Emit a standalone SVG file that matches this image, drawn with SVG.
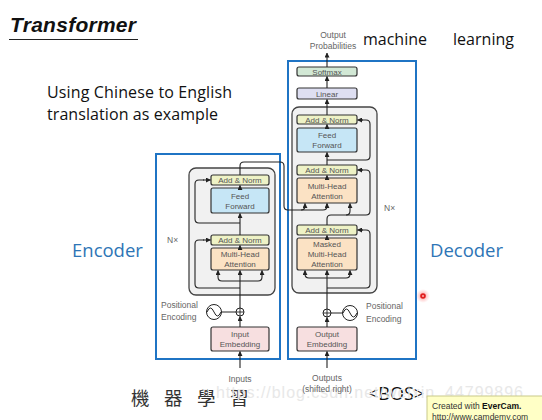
<svg xmlns="http://www.w3.org/2000/svg" width="542" height="420" viewBox="0 0 542 420">
<defs>
<marker id="ar" viewBox="0 0 6 6" refX="5.5" refY="3" markerWidth="5" markerHeight="5" markerUnits="userSpaceOnUse" orient="auto"><path d="M0,0 L6,3 L0,6 z" fill="#222"/></marker>
<radialGradient id="glow"><stop offset="0" stop-color="#ff3030" stop-opacity="0.6"/><stop offset="1" stop-color="#ff8080" stop-opacity="0"/></radialGradient>
<style>
.blue{fill:none;stroke:#1f74c4;stroke-width:2}
.gray{fill:#f1f1f1;stroke:#444;stroke-width:1.3}
.blk{stroke:#333;stroke-width:1.2}
.an{fill:#eef2c6}.ff{fill:#c6e6f6}.mha{fill:#fbe2c4}.emb{fill:#f7dfe0}.sm{fill:#d2e8d5}.lin{fill:#dedff2}
.bt{font-family:"Liberation Sans",Arial,sans-serif;font-size:8px;fill:#555;text-anchor:middle}
.st{font-family:"Liberation Sans",Arial,sans-serif;font-size:8.5px;fill:#666}
.ln{fill:none;stroke:#222;stroke-width:1.1}
.lna{fill:none;stroke:#222;stroke-width:1.1;marker-end:url(#ar)}
.big{font-family:"Open Sans","Liberation Sans",sans-serif;font-size:16px;fill:#111}
.lab{font-family:"Open Sans","Liberation Sans",sans-serif;font-size:18.5px;fill:#2e75b6}
</style>
</defs>
<rect width="542" height="420" fill="#fff"/>

<g id="title">
<text x="10" y="32" font-family="'Liberation Sans',Arial,sans-serif" font-size="21" font-weight="bold" font-style="italic" fill="#111" textLength="126">Transformer</text>
<line x1="9" y1="39.5" x2="138" y2="39.5" stroke="#222" stroke-width="1.2"/>
</g>
<g id="caption">
<text class="big" x="47" y="98" textLength="185">Using Chinese to English</text>
<text class="big" x="47" y="120" textLength="171">translation as example</text>
</g>
<g id="words">
<text class="big" x="363" y="45" textLength="64">machine</text>
<text class="big" x="453" y="45" textLength="61">learning</text>
<text x="368" y="400" font-family="'Open Sans','Liberation Sans',sans-serif" font-size="18" fill="#111">&lt;BOS&gt;</text>
<text x="131" y="405" font-family="'Noto Sans CJK TC','Noto Sans CJK SC',sans-serif" font-size="18.5" fill="#333" letter-spacing="14.5">機器學習</text>
</g>
<text x="216" y="398" font-family="'Liberation Sans',Arial,sans-serif" font-size="16" fill="#e8e8e8" textLength="307">https://blog.csdn.net/weixin_44799896</text>

<g id="encoder">
<rect class="blue" x="156" y="154" width="124" height="205"/>
<text class="lab" x="72" y="257">Encoder</text>
<rect class="gray" x="189" y="168" width="86" height="127" rx="7"/>
<text class="st" x="167" y="243">N×</text>
<g id="enc-an1"><rect class="blk an" x="211" y="175" width="58" height="10" rx="2"/><text class="bt" x="240" y="183">Add &amp; Norm</text></g>
<g id="enc-ff"><rect class="blk ff" x="211" y="188" width="58" height="25" rx="2"/><text class="bt" x="240" y="198.5">Feed</text><text class="bt" x="240" y="208.5">Forward</text></g>
<g id="enc-an2"><rect class="blk an" x="211" y="235" width="58" height="10" rx="2"/><text class="bt" x="240" y="243">Add &amp; Norm</text></g>
<g id="enc-mha"><rect class="blk mha" x="211" y="248" width="58" height="22" rx="2"/><text class="bt" x="240" y="257">Multi-Head</text><text class="bt" x="240" y="267">Attention</text></g>
<g id="enc-emb"><rect class="blk emb" x="211" y="327" width="58" height="24" rx="2"/><text class="bt" x="240" y="337">Input</text><text class="bt" x="240" y="347">Embedding</text></g>
<g id="enc-pe">
<circle cx="240" cy="312" r="4" fill="#fff" stroke="#222" stroke-width="1"/><path d="M236,312 H244 M240,308 V316" stroke="#222" stroke-width="0.9"/>
<circle cx="214" cy="312" r="7.5" fill="#fff" stroke="#222" stroke-width="1"/><path d="M207,312 Q210.5,304 214,312 T221,312" fill="none" stroke="#222" stroke-width="1"/>
<line x1="221.5" y1="312" x2="236" y2="312" stroke="#222" stroke-width="1"/>
<text class="st" x="161" y="308">Positional</text><text class="st" x="161" y="320">Encoding</text>
</g>
<text class="st" x="240" y="382" text-anchor="middle">Inputs</text>
</g>

<g id="decoder">
<rect class="blue" x="288" y="61" width="128" height="298"/>
<text class="lab" x="430" y="257">Decoder</text>
<rect class="gray" x="292" y="107" width="85" height="186" rx="7"/>
<text class="st" x="384" y="211">N×</text>
<g id="dec-sm"><rect class="blk sm" x="297" y="67" width="60" height="9" rx="2"/><text class="bt" x="327" y="74.5">Softmax</text></g>
<g id="dec-lin"><rect class="blk lin" x="297" y="88" width="60" height="11" rx="2"/><text class="bt" x="327" y="96.5">Linear</text></g>
<g id="dec-an1"><rect class="blk an" x="297" y="115" width="60" height="9" rx="2"/><text class="bt" x="327" y="122.5">Add &amp; Norm</text></g>
<g id="dec-ff"><rect class="blk ff" x="297" y="128" width="60" height="24" rx="2"/><text class="bt" x="327" y="138">Feed</text><text class="bt" x="327" y="148">Forward</text></g>
<g id="dec-an2"><rect class="blk an" x="297" y="165" width="60" height="10" rx="2"/><text class="bt" x="327" y="173">Add &amp; Norm</text></g>
<g id="dec-mha"><rect class="blk mha" x="297" y="178" width="60" height="25" rx="2"/><text class="bt" x="327" y="188.5">Multi-Head</text><text class="bt" x="327" y="198.5">Attention</text></g>
<g id="dec-an3"><rect class="blk an" x="297" y="225" width="60" height="10" rx="2"/><text class="bt" x="327" y="233">Add &amp; Norm</text></g>
<g id="dec-mmha"><rect class="blk mha" x="297" y="238" width="60" height="32" rx="2"/><text class="bt" x="327" y="247">Masked</text><text class="bt" x="327" y="257">Multi-Head</text><text class="bt" x="327" y="267">Attention</text></g>
<g id="dec-emb"><rect class="blk emb" x="297" y="327" width="60" height="24" rx="2"/><text class="bt" x="327" y="337">Output</text><text class="bt" x="327" y="347">Embedding</text></g>
<g id="dec-pe">
<circle cx="327" cy="313" r="4" fill="#fff" stroke="#222" stroke-width="1"/><path d="M323,313 H331 M327,309 V317" stroke="#222" stroke-width="0.9"/>
<circle cx="350" cy="313" r="7.5" fill="#fff" stroke="#222" stroke-width="1"/><path d="M343,313 Q346.5,305 350,313 T357,313" fill="none" stroke="#222" stroke-width="1"/>
<line x1="331" y1="313" x2="342.5" y2="313" stroke="#222" stroke-width="1"/>
<text class="st" x="366" y="309">Positional</text><text class="st" x="366" y="322">Encoding</text>
</g>
<text class="st" x="333" y="38" text-anchor="middle">Output</text>
<text class="st" x="333" y="49" text-anchor="middle">Probabilities</text>
<text class="st" x="327" y="381" text-anchor="middle">Outputs</text>
<text class="st" x="327" y="392" text-anchor="middle">(shifted right)</text>
</g>

<g id="connectors">
<path class="lna" d="M240,368 V351.5"/>
<path class="lna" d="M240,327 V316.5"/>
<path class="lna" d="M240,308 V270.5"/>
<path class="lna" d="M240,281 H222 Q218,281 218,277 V270.5"/>
<path class="lna" d="M240,281 H258 Q262,281 262,277 V270.5"/>
<path class="ln" d="M240,288 H199 Q195,288 195,284 V244 Q195,240 199,240 H204"/>
<path class="lna" d="M203,240 H210.5"/>
<path class="lna" d="M240,248 V245.5"/>
<path class="lna" d="M240,235 V213.5"/>
<path class="ln" d="M240,223 H199 Q195,223 195,219 V184 Q195,180 199,180 H204"/>
<path class="lna" d="M203,180 H210.5"/>
<path class="lna" d="M240,188 V185.5"/>
<path class="ln" d="M240,175 V166 Q240,162 244,162 H280 Q284,162 284,166 V206 Q284,210 288,210 H323 Q327,210 327,206 V204"/>
<path class="lna" d="M327,207 V203.5"/>
<path class="ln" d="M301,210 Q305,210 305,206"/>
<path class="lna" d="M305,207 V203.5"/>
<path class="lna" d="M327,368 V351.5"/>
<path class="lna" d="M327,327 V317.5"/>
<path class="lna" d="M327,309 V270.5"/>
<path class="lna" d="M327,278 H309 Q305,278 305,274 V270.5"/>
<path class="lna" d="M327,278 H346 Q350,278 350,274 V270.5"/>
<path class="ln" d="M327,288 H366 Q370,288 370,284 V234 Q370,230 366,230 H362"/>
<path class="lna" d="M363,230 H357.5"/>
<path class="lna" d="M327,238 V235.5"/>
<path class="ln" d="M327,225 V219 Q327,215 331,215 H366 Q370,215 370,211 V174 Q370,170 366,170 H362"/>
<path class="ln" d="M346,215 Q350,215 350,211 V207"/>
<path class="lna" d="M350,208 V203.5"/>
<path class="lna" d="M363,170 H357.5"/>
<path class="lna" d="M327,178 V175.5"/>
<path class="lna" d="M327,165 V152.5"/>
<path class="ln" d="M327,160 H366 Q370,160 370,156 V124 Q370,120 366,120 H362"/>
<path class="lna" d="M363,120 H357.5"/>
<path class="lna" d="M327,128 V124.5"/>
<path class="lna" d="M327,115 V99.5"/>
<path class="lna" d="M327,88 V76.5"/>
<path class="lna" d="M327,67 V53"/>
</g>

<g id="pointer">
<circle cx="423" cy="296" r="7" fill="url(#glow)"/>
<circle cx="423" cy="296" r="2.8" fill="#e02020"/>
<circle cx="423" cy="296" r="1" fill="#ffb0b0"/>
</g>
<g id="evercam">
<rect x="427" y="396" width="120" height="30" fill="#ffffc6" stroke="#c9c98a" stroke-width="1"/>
<text x="432" y="409" font-family="'Liberation Sans',Arial,sans-serif" font-size="8.5" fill="#333">Created with <tspan font-weight="bold" fill="#111">EverCam.</tspan></text>
<text x="432" y="420" font-family="'Liberation Sans',Arial,sans-serif" font-size="8.5" fill="#333">http://www.camdemy.com</text>
</g>
</svg>
